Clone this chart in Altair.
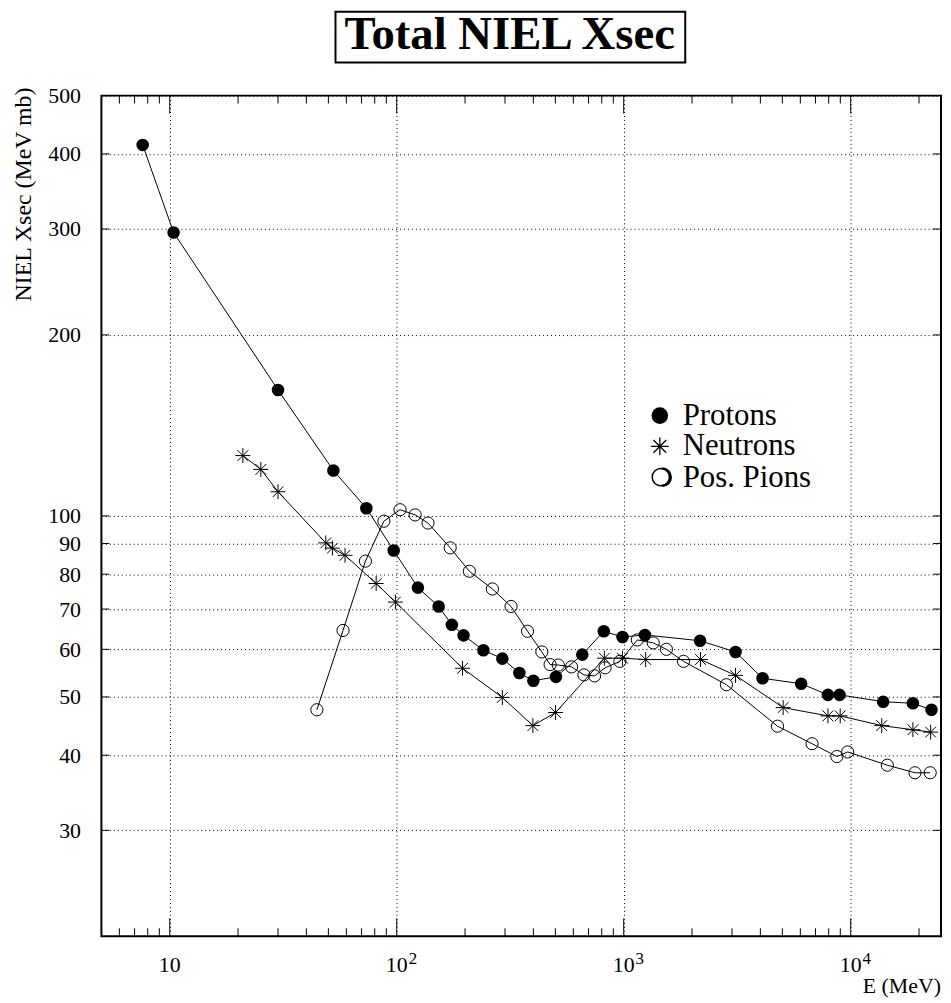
import altair as alt
import pandas as pd

# ---------------- data ----------------
p_E = [7.6, 10.4, 30, 52.6, 73.5, 97, 124, 153, 175, 197, 241, 292, 347, 400, 503,
       657, 817, 988, 1240, 2170, 3110, 4090, 6050, 7940, 8930, 13900, 18800, 22700]
p_V = [414, 296, 162, 119, 103, 87.6, 76, 70.7, 65.9, 63.3, 59.8, 57.9, 54.8, 53.2, 54.0,
       58.8, 64.3, 62.9, 63.4, 62.0, 59.4, 53.7, 52.6, 50.4, 50.4, 49.1, 48.8, 47.6]

n_E = [21, 25.2, 30, 48.7, 52.1, 59.2, 81.2, 98.7, 195, 292, 398, 501, 822, 988, 1250,
       2180, 3110, 5040, 7940, 8990, 13700, 18800, 22500]
n_V = [126, 119.5, 109.7, 90.2, 88.4, 86.0, 77.2, 71.9, 55.8, 49.9, 44.8, 47.1, 58.0, 58.0,
       57.7, 57.7, 54.3, 48.0, 46.5, 46.5, 44.8, 44.1, 43.7]

pi_E = [44.5, 58, 72.8, 87.8, 103.4, 120.6, 137.4, 172, 209, 264, 319, 377, 436, 474, 515,
        589, 668, 744, 828, 962, 1148, 1349, 1543, 1834, 2835, 4760, 6760, 8690, 9700,
        14500, 19200, 22400]
pi_V = [47.6, 64.5, 84.1, 98.0, 102.4, 100.4, 97.3, 88.5, 80.9, 75.6, 70.7, 64.3, 59.4, 56.6,
        56.5, 56.1, 54.4, 54.2, 55.9, 57.3, 62.2, 61.5, 60.0, 57.3, 52.4, 44.7, 41.8, 39.8,
        40.5, 38.5, 37.4, 37.4]

series_names = ["Protons", "Neutrons", "Pos. Pions"]

x_major = [10, 100, 1000, 10000]
x_base = ["10", "10", "10", "10"]
x_exp = ["", "2", "3", "4"]
x_minor = [6, 7, 8, 9, 20, 30, 40, 50, 60, 70, 80, 90, 200, 300, 400, 500, 600, 700, 800, 900,
           2000, 3000, 4000, 5000, 6000, 7000, 8000, 9000, 20000]
y_ticks = [30, 40, 50, 60, 70, 80, 90, 100, 200, 300, 400, 500]

title_text = "Total NIEL Xsec"
x_title = "E (MeV)"
y_title = "NIEL Xsec (MeV mb)"

# ---------------- layout ----------------
W, H = 845, 846
FONT = "Liberation Serif"
ASTERISK = "M-1,0L1,0M0,-1L0,1M-0.72,-0.72L0.72,0.72M-0.72,0.72L0.72,-0.72"
HALF_ARC = "M0.1,-1A1,1 0 0 1 0.1,1"

df = pd.DataFrame({
    "E": p_E + n_E + pi_E,
    "V": p_V + n_V + pi_V,
    "series": [series_names[0]] * len(p_E) + [series_names[1]] * len(n_E) + [series_names[2]] * len(pi_E),
})

xscale = alt.Scale(type="log", domain=[5, 25000], nice=False)
yscale = alt.Scale(type="log", domain=[20, 500], nice=False)

xaxis = alt.Axis(values=x_major, labels=False, ticks=False, tickSize=0, domain=False,
                 grid=True, gridDash=[1, 3], gridColor="black", gridWidth=1, gridOpacity=1,
                 title=None)
yaxis = alt.Axis(values=y_ticks, labels=True, labelFont=FONT, labelFontSize=22,
                 labelColor="black", labelPadding=21, labelFlush=False, labelOverlap=False,
                 format="d", ticks=False, tickSize=0, domain=False,
                 grid=True, gridDash=[1, 3], gridColor="black", gridWidth=1, gridOpacity=1,
                 title=None)

X = alt.X("E:Q", scale=xscale, axis=xaxis)
Y = alt.Y("V:Q", scale=yscale, axis=yaxis)

lines = alt.Chart(df).mark_line(color="black", strokeWidth=1).encode(
    x=X, y=Y, detail="series:N", order=alt.Order("E:Q"))

prot = alt.Chart(df[df.series == series_names[0]]).mark_point(
    shape="circle", filled=True, color="black", opacity=1, size=160).encode(x=X, y=Y)
neut = alt.Chart(df[df.series == series_names[1]]).mark_point(
    shape=ASTERISK, filled=False, color="black", strokeWidth=1, opacity=1, size=225).encode(x=X, y=Y)
pion = alt.Chart(df[df.series == series_names[2]]).mark_point(
    shape="circle", filled=False, color="black", strokeWidth=1, opacity=1, size=150).encode(x=X, y=Y)

# tick marks (inside the frame, on all four sides)
XT = alt.X("t:Q", scale=xscale, axis=xaxis)
YT = alt.Y("t:Q", scale=yscale, axis=yaxis)
dmaj = pd.DataFrame({"t": x_major})
dmin = pd.DataFrame({"t": x_minor})
dyt = pd.DataFrame({"t": y_ticks})
tick_layers = [
    alt.Chart(dmaj).mark_rule(color="black", strokeWidth=1).encode(x=XT, y=alt.value(H), y2=alt.value(H - 18)),
    alt.Chart(dmin).mark_rule(color="black", strokeWidth=1).encode(x=XT, y=alt.value(H), y2=alt.value(H - 8)),
    alt.Chart(dmaj).mark_rule(color="black", strokeWidth=1).encode(x=XT, y=alt.value(0), y2=alt.value(18)),
    alt.Chart(dmin).mark_rule(color="black", strokeWidth=1).encode(x=XT, y=alt.value(0), y2=alt.value(8)),
    alt.Chart(dyt).mark_rule(color="black", strokeWidth=1).encode(y=YT, x=alt.value(0), x2=alt.value(8)),
    alt.Chart(dyt).mark_rule(color="black", strokeWidth=1).encode(y=YT, x=alt.value(W - 8), x2=alt.value(W)),
]

# x tick labels 10, 10^2, ...
dxl = pd.DataFrame({"t": x_major, "base": x_base, "exp": x_exp})
xl_base = alt.Chart(dxl).mark_text(font=FONT, fontSize=22, align="center", baseline="alphabetic",
                                   color="black").encode(x=XT, y=alt.value(H + 36), text="base:N")
xl_exp = alt.Chart(dxl).mark_text(font=FONT, fontSize=17, align="left", baseline="alphabetic",
                                  dx=12, color="black").encode(x=XT, y=alt.value(H + 28), text="exp:N")

one = pd.DataFrame({"s": [0]})
xt_txt = alt.Chart(one).mark_text(text=x_title, font=FONT, fontSize=22, align="right",
                                  baseline="alphabetic", color="black").encode(
    x=alt.value(W), y=alt.value(H + 57))
yt_txt = alt.Chart(one).mark_text(text=y_title, font=FONT, fontSize=24, align="right",
                                  baseline="alphabetic", angle=270, color="black").encode(
    x=alt.value(-71), y=alt.value(-8))

title_box = alt.Chart(one).mark_rect(fill="white", stroke="black", strokeWidth=2).encode(
    x=alt.value(235.6), x2=alt.value(587.6), y=alt.value(-84.3), y2=alt.value(-33.3))
title_txt = alt.Chart(one).mark_text(text=title_text, font=FONT, fontSize=47, fontWeight="bold",
                                     align="center", baseline="alphabetic", color="black").encode(
    x=alt.value(411), y=alt.value(-46.6))

# legend
leg_p = alt.Chart(one).mark_point(shape="circle", filled=True, color="black", opacity=1, size=280).encode(
    x=alt.value(562), y=alt.value(322))
leg_n = alt.Chart(one).mark_point(shape=ASTERISK, filled=False, color="black", strokeWidth=1.3,
                                  opacity=1, size=320).encode(x=alt.value(562), y=alt.value(353))
leg_pi = alt.Chart(one).mark_point(shape="circle", filled=False, color="black", strokeWidth=1.5,
                                   opacity=1, size=300).encode(x=alt.value(563), y=alt.value(384))
leg_pi2 = alt.Chart(one).mark_point(shape=HALF_ARC, filled=False, color="black", strokeWidth=2.5,
                                    opacity=1, size=300).encode(x=alt.value(563.5), y=alt.value(384))
leg_txt = [
    alt.Chart(one).mark_text(text=name, font=FONT, fontSize=31, align="left", baseline="alphabetic",
                             color="black").encode(x=alt.value(585), y=alt.value(yy))
    for name, yy in zip(series_names, [331, 362, 394])
]

chart = alt.layer(
    lines, prot, neut, pion, *tick_layers, xl_base, xl_exp, xt_txt, yt_txt,
    title_box, title_txt, leg_p, leg_n, leg_pi, leg_pi2, *leg_txt
).properties(
    width=W, height=H,
    autosize=alt.AutoSizeParams(type="none"),
    padding={"left": 94, "top": 85, "right": 2, "bottom": 62},
    background="white",
).configure_view(stroke="black", strokeWidth=2)

chart.save("out.html", embed_options={"renderer": "svg", "actions": False})
